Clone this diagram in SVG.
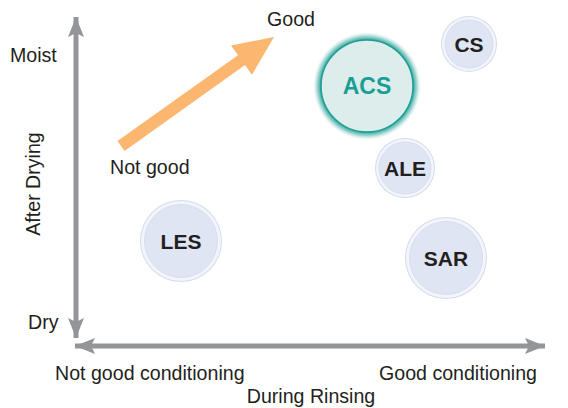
<svg xmlns="http://www.w3.org/2000/svg" width="568" height="408" viewBox="0 0 568 408">
<style>
.lbl{font-family:"Liberation Sans",Arial,sans-serif;font-size:19.6px;fill:#231f20}
.node{font-family:"Liberation Sans",Arial,sans-serif;font-weight:bold;font-size:21px;fill:#231f20;text-anchor:middle}
.axis{stroke:#939598;stroke-width:5;fill:none}
.edge{fill:#d3dcee}
.ring{fill:#f3f5fb}
.disc{fill:#dfe5f3;stroke:#d6def0;stroke-width:1}
</style>
<defs>
<marker id="ah" viewBox="0 0 20 16" refX="20" refY="8" markerWidth="20" markerHeight="16" markerUnits="userSpaceOnUse" orient="auto-start-reverse">
<path d="M0,0 L20,8 L0,16 L4,8 z" fill="#939598"/>
</marker>
<radialGradient id="glow" cx="0.5" cy="0.5" r="0.5">
<stop offset="0.84" stop-color="#14958c" stop-opacity="1"/>
<stop offset="0.92" stop-color="#5fbab3" stop-opacity="0.6"/>
<stop offset="1" stop-color="#bfe3e0" stop-opacity="0"/>
</radialGradient>
</defs>
<rect width="568" height="408" fill="#ffffff"/>
<g id="connectors">
<line class="axis" x1="76" y1="338" x2="76" y2="17" marker-start="url(#ah)" marker-end="url(#ah)"/>
<line class="axis" x1="75" y1="346" x2="545" y2="346" marker-start="url(#ah)" marker-end="url(#ah)"/>
<polygon points="117.5,141.1 238,55.3 231.1,45.6 274,37 251.9,74.8 245,65.1 124.5,150.9" fill="#fbb670"/>
</g>
<g id="labels">
<text class="lbl" x="10" y="62">Moist</text>
<text class="lbl" x="28" y="329">Dry</text>
<text class="lbl" transform="translate(40,184) rotate(-90)" text-anchor="middle">After Drying</text>
<text class="lbl" x="267" y="26">Good</text>
<text class="lbl" x="110" y="174">Not good</text>
<text class="lbl" x="55" y="380">Not good conditioning</text>
<text class="lbl" x="379" y="380">Good conditioning</text>
<text class="lbl" x="311" y="403" text-anchor="middle">During Rinsing</text>
</g>
<g id="ACS">
<circle cx="367" cy="86" r="54" fill="url(#glow)"/>
<circle cx="367" cy="86" r="46" fill="#dcedec" stroke="#1e9f96" stroke-width="1.5"/>
<text class="node" x="367" y="94" style="font-size:23px;fill:#1a9d94">ACS</text>
</g>
<g id="CS">
<circle class="edge" cx="469" cy="44" r="28"/>
<circle class="ring" cx="469" cy="44" r="27"/>
<circle class="disc" cx="469" cy="44" r="24"/>
<text class="node" x="469" y="51.5">CS</text>
</g>
<g id="ALE">
<circle class="edge" cx="405" cy="168" r="30"/>
<circle class="ring" cx="405" cy="168" r="29"/>
<circle class="disc" cx="405" cy="168" r="26"/>
<text class="node" x="405" y="175.5">ALE</text>
</g>
<g id="LES">
<circle class="edge" cx="181" cy="241" r="41"/>
<circle class="ring" cx="181" cy="241" r="40"/>
<circle class="disc" cx="181" cy="241" r="36.5"/>
<text class="node" x="181" y="248.5">LES</text>
</g>
<g id="SAR">
<circle class="edge" cx="446" cy="258" r="41"/>
<circle class="ring" cx="446" cy="258" r="40"/>
<circle class="disc" cx="446" cy="258" r="36.5"/>
<text class="node" x="446" y="265.5">SAR</text>
</g>
</svg>
